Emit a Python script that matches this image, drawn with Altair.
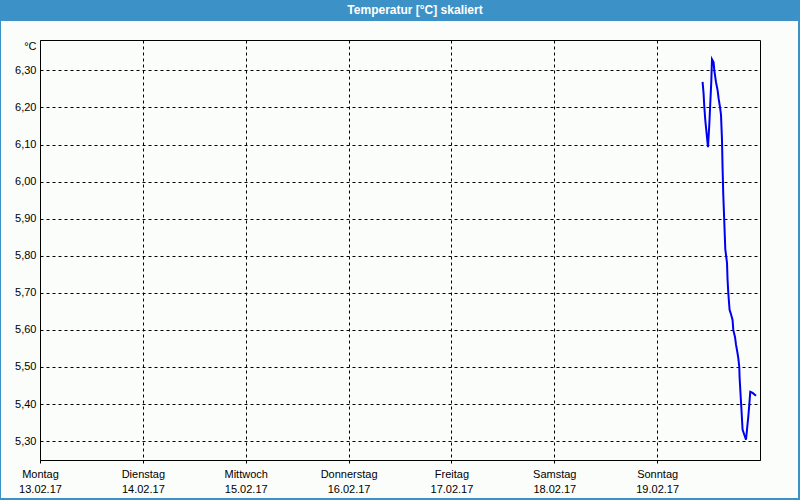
import altair as alt
import pandas as pd

# --- data ---
times = [
    "2017-02-19T10:36:00Z", "2017-02-19T10:50:00Z", "2017-02-19T10:59:00Z", "2017-02-19T11:14:00Z",
    "2017-02-19T11:32:00Z", "2017-02-19T11:52:00Z", "2017-02-19T12:10:00Z", "2017-02-19T12:24:00Z",
    "2017-02-19T12:38:00Z", "2017-02-19T12:48:00Z", "2017-02-19T13:10:00Z", "2017-02-19T13:20:00Z",
    "2017-02-19T13:44:00Z", "2017-02-19T14:06:00Z", "2017-02-19T14:20:00Z", "2017-02-19T14:40:00Z",
    "2017-02-19T14:54:00Z", "2017-02-19T15:08:00Z", "2017-02-19T15:16:00Z", "2017-02-19T15:26:00Z",
    "2017-02-19T15:40:00Z", "2017-02-19T15:54:00Z", "2017-02-19T16:18:00Z", "2017-02-19T16:26:00Z",
    "2017-02-19T16:36:00Z", "2017-02-19T16:54:00Z", "2017-02-19T17:08:00Z", "2017-02-19T17:36:00Z",
    "2017-02-19T17:46:00Z", "2017-02-19T18:10:00Z", "2017-02-19T18:24:00Z", "2017-02-19T18:42:00Z",
    "2017-02-19T18:56:00Z", "2017-02-19T19:10:00Z", "2017-02-19T19:14:00Z", "2017-02-19T19:28:00Z",
    "2017-02-19T19:42:00Z", "2017-02-19T19:56:00Z", "2017-02-19T20:20:00Z", "2017-02-19T20:44:00Z",
    "2017-02-19T20:58:00Z", "2017-02-19T21:16:00Z", "2017-02-19T21:30:00Z", "2017-02-19T21:44:00Z",
    "2017-02-19T22:17:00Z", "2017-02-19T23:04:00Z",
]
temps = [
    6.269, 6.238, 6.206, 6.166,
    6.131, 6.093, 6.153, 6.212,
    6.269, 6.330, 6.322, 6.301,
    6.268, 6.247, 6.225, 6.201,
    6.180, 6.112, 6.037, 5.964,
    5.891, 5.818, 5.781, 5.735,
    5.700, 5.654, 5.646, 5.627,
    5.600, 5.581, 5.560, 5.541,
    5.524, 5.500, 5.473, 5.425,
    5.379, 5.331, 5.317, 5.304,
    5.331, 5.366, 5.398, 5.433,
    5.430, 5.422,
]
y_ticks = [5.3, 5.4, 5.5, 5.6, 5.7, 5.8, 5.9, 6.0, 6.1, 6.2, 6.3]
day_dates = [13, 14, 15, 16, 17, 18, 19]
day_names = ["Sonntag", "Montag", "Dienstag", "Mittwoch", "Donnerstag", "Freitag", "Samstag"]
title_text = "Temperatur [°C] skaliert"
unit_text = "°C"

df = pd.DataFrame({"t": times, "v": temps})

FONT = "Liberation Sans"
BLUE_FRAME = "#3c91c6"

x_scale = alt.Scale(
    type="utc",
    domain=[alt.DateTime(year=2017, month=2, date=13, utc=True),
            alt.DateTime(year=2017, month=2, date=20, utc=True)],
)
y_scale = alt.Scale(domain=[5.249, 6.382], nice=False, zero=False)

names_js = "[" + ",".join("'" + n + "'" for n in day_names) + "]"

x_axis = alt.Axis(
    values=[alt.DateTime(year=2017, month=2, date=d, utc=True) for d in day_dates],
    labelExpr=f"[{names_js}[utcday(datum.value)], utcFormat(datum.value, '%d.%m.%y')]",
    title=None,
    grid=True, gridColor="black", gridDash=[3, 3], gridOpacity=1, gridWidth=1,
    domain=True, domainColor="black", domainWidth=1,
    ticks=True, tickColor="black", tickSize=3,
    labelFont=FONT, labelFontSize=11, labelColor="black",
    labelBaseline="top", labelPadding=5, labelLineHeight=15,
    labelAlign="center", labelFlush=False, labelOverlap=False,
)
y_axis = alt.Axis(
    values=y_ticks,
    labelExpr="replace(format(datum.value, '.2f'), '.', ',')",
    title=unit_text, titleAngle=0, titleX=-4, titleY=6, titleAlign="right",
    titleBaseline="middle", titleFont=FONT, titleFontSize=11, titleFontWeight="normal",
    titleColor="black",
    grid=True, gridColor="black", gridDash=[3, 3], gridOpacity=1, gridWidth=1,
    domain=False, ticks=False,
    labelFont=FONT, labelFontSize=11, labelColor="black", labelPadding=4,
)

line = alt.Chart(df).mark_line(color="#0000f0", strokeWidth=2, clip=True).encode(
    x=alt.X("t:T", scale=x_scale, axis=x_axis),
    y=alt.Y("v:Q", scale=y_scale, axis=y_axis),
)

# decorations: title bar and window frame
bar = alt.Chart(pd.DataFrame({"a": [0]})).mark_rect(color=BLUE_FRAME, clip=False).encode(
    x=alt.value(-40), x2=alt.value(760), y=alt.value(-40), y2=alt.value(-19)
)
frame = alt.Chart(pd.DataFrame({"a": [0]})).mark_rect(
    fillOpacity=0, stroke=BLUE_FRAME, strokeWidth=2, clip=False
).encode(x=alt.value(-40), x2=alt.value(759), y=alt.value(-40), y2=alt.value(459))
title = alt.Chart(pd.DataFrame({"a": [0]})).mark_text(
    text=title_text, font=FONT, fontSize=12, fontWeight="bold", color="white",
    align="center", baseline="middle", clip=False
).encode(x=alt.value(375), y=alt.value(-30))

chart = alt.layer(bar, frame, title, line).properties(
    width=720, height=420,
    autosize=alt.AutoSizeParams(type="none"),
    padding={"left": 40, "top": 40, "right": 40, "bottom": 40},
    background="#fbfdfb",
).configure_view(stroke="black", strokeWidth=1, fill="#fbfdfb")

chart.save("out.html", embed_options={"renderer": "svg", "actions": False})
